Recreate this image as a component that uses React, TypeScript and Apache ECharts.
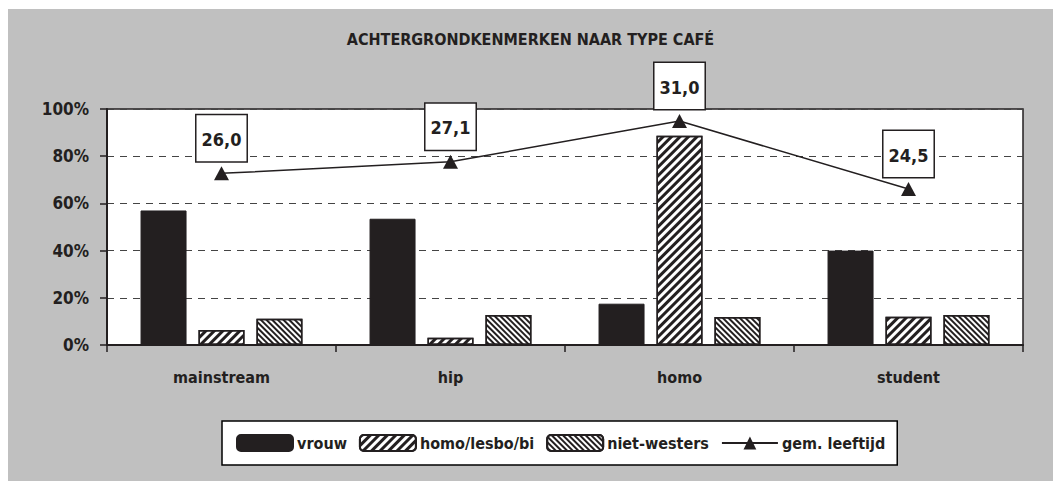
import React, { useEffect, useRef } from "react";
import * as echarts from "echarts";

const categories = ["mainstream", "hip", "homo", "student"];
const vrouw = [57, 53.5, 17.5, 40];
const homoLesboBi = [6.4, 3.1, 88.7, 12];
const nietWesters = [11.1, 12.7, 11.9, 12.7];
const gemLeeftijd = [26.0, 27.1, 31.0, 24.5];
const yTicks = [0, 20, 40, 60, 80, 100];

const FONT = "'Liberation Sans Narrow', 'DejaVu Sans Condensed', 'Roboto Condensed', sans-serif";
const INK = "#231F20";

export default function App() {
  const ref = useRef<HTMLDivElement>(null);
  useEffect(() => {
    if (!ref.current) return;
    const chart = echarts.init(ref.current, null, { renderer: "svg" });
    chart.setOption({
      animation: false,
      backgroundColor: "#C0C0C0",
      textStyle: { fontFamily: FONT, fontWeight: "bold", color: INK },
      title: {
        text: "ACHTERGRONDKENMERKEN NAAR TYPE CAFÉ",
        left: "center",
        top: 17,
        textStyle: { fontFamily: FONT, fontWeight: "bold", fontSize: 16, color: INK },
      },
      legend: {
        left: 214,
        top: 412,
        backgroundColor: "#fff",
        borderColor: "#000",
        borderWidth: 1.5,
        borderRadius: 0,
        padding: [13, 12, 13, 14],
        itemWidth: 56,
        itemHeight: 16,
        itemGap: 12,
        textStyle: { fontFamily: FONT, fontWeight: "bold", fontSize: 16, color: INK, padding: [0, 0, 0, -1] },
        data: ["vrouw", "homo/lesbo/bi", "niet-westers", "gem. leeftijd"],
      },
      grid: {
        left: 99,
        top: 100,
        width: 916,
        height: 236,
        show: true,
        backgroundColor: "#fff",
        borderColor: INK,
        borderWidth: 1.5,
      },
      xAxis: {
        type: "category",
        data: categories,
        axisLine: { lineStyle: { color: INK, width: 2 } },
        axisTick: { show: true, length: 7, alignWithLabel: false, lineStyle: { color: INK, width: 1.5 } },
        axisLabel: { fontFamily: FONT, fontWeight: "bold", fontSize: 16, color: INK, margin: 24 },
      },
      yAxis: [
        {
          type: "value",
          min: yTicks[0],
          max: yTicks[yTicks.length - 1],
          interval: 20,
          axisLine: { show: true, lineStyle: { color: INK, width: 2 } },
          axisTick: { show: true, length: 7, lineStyle: { color: INK, width: 1.5 } },
          axisLabel: { formatter: "{value}%", fontFamily: FONT, fontWeight: "bold", fontSize: 17, color: INK, margin: 18 },
          splitLine: { show: true, lineStyle: { color: "#444", type: [7, 6], width: 1 } },
        },
        {
          type: "value",
          min: 9.6,
          max: 32.15,
          show: false,
          splitLine: { show: false },
        },
      ],
      series: [
        {
          name: "vrouw",
          type: "bar",
          data: vrouw,
          barWidth: 46,
          barGap: "26%",
          itemStyle: { color: INK, borderColor: INK, borderWidth: 1 },
        },
        {
          name: "homo/lesbo/bi",
          type: "bar",
          data: homoLesboBi,
          barWidth: 46,
          barGap: "26%",
          itemStyle: {
            color: "#fff",
            borderColor: INK,
            borderWidth: 1.5,
            decal: {
              symbol: "rect",
              symbolSize: 1,
              color: INK,
              dashArrayX: [1, 0],
              dashArrayY: [2.6, 2.8],
              rotation: -Math.PI / 4,
            },
          },
        },
        {
          name: "niet-westers",
          type: "bar",
          data: nietWesters,
          barWidth: 46,
          barGap: "26%",
          itemStyle: {
            color: "#fff",
            borderColor: INK,
            borderWidth: 1.5,
            decal: {
              symbol: "rect",
              symbolSize: 1,
              color: INK,
              dashArrayX: [1, 0],
              dashArrayY: [1.4, 1.5],
              rotation: Math.PI / 4,
            },
          },
        },
        {
          name: "gem. leeftijd",
          type: "line",
          yAxisIndex: 1,
          data: gemLeeftijd,
          symbol: "triangle",
          symbolSize: [15, 14],
          lineStyle: { color: INK, width: 1.5 },
          itemStyle: { color: INK },
          label: {
            show: true,
            position: "top",
            distance: 5,
            formatter: (p: any) => Number(p.value).toFixed(1).replace(".", ","),
            fontFamily: FONT,
            fontWeight: "bold",
            fontSize: 18,
            color: INK,
            backgroundColor: "#fff",
            borderColor: INK,
            borderWidth: 1.5,
            padding: [15, 5, 13, 5],
          },
        },
      ],
    });
    return () => chart.dispose();
  }, []);
  return (
    <div
      ref={ref}
      style={{ position: "absolute", left: 8, top: 9, width: 1045, height: 472 }}
    />
  );
}
